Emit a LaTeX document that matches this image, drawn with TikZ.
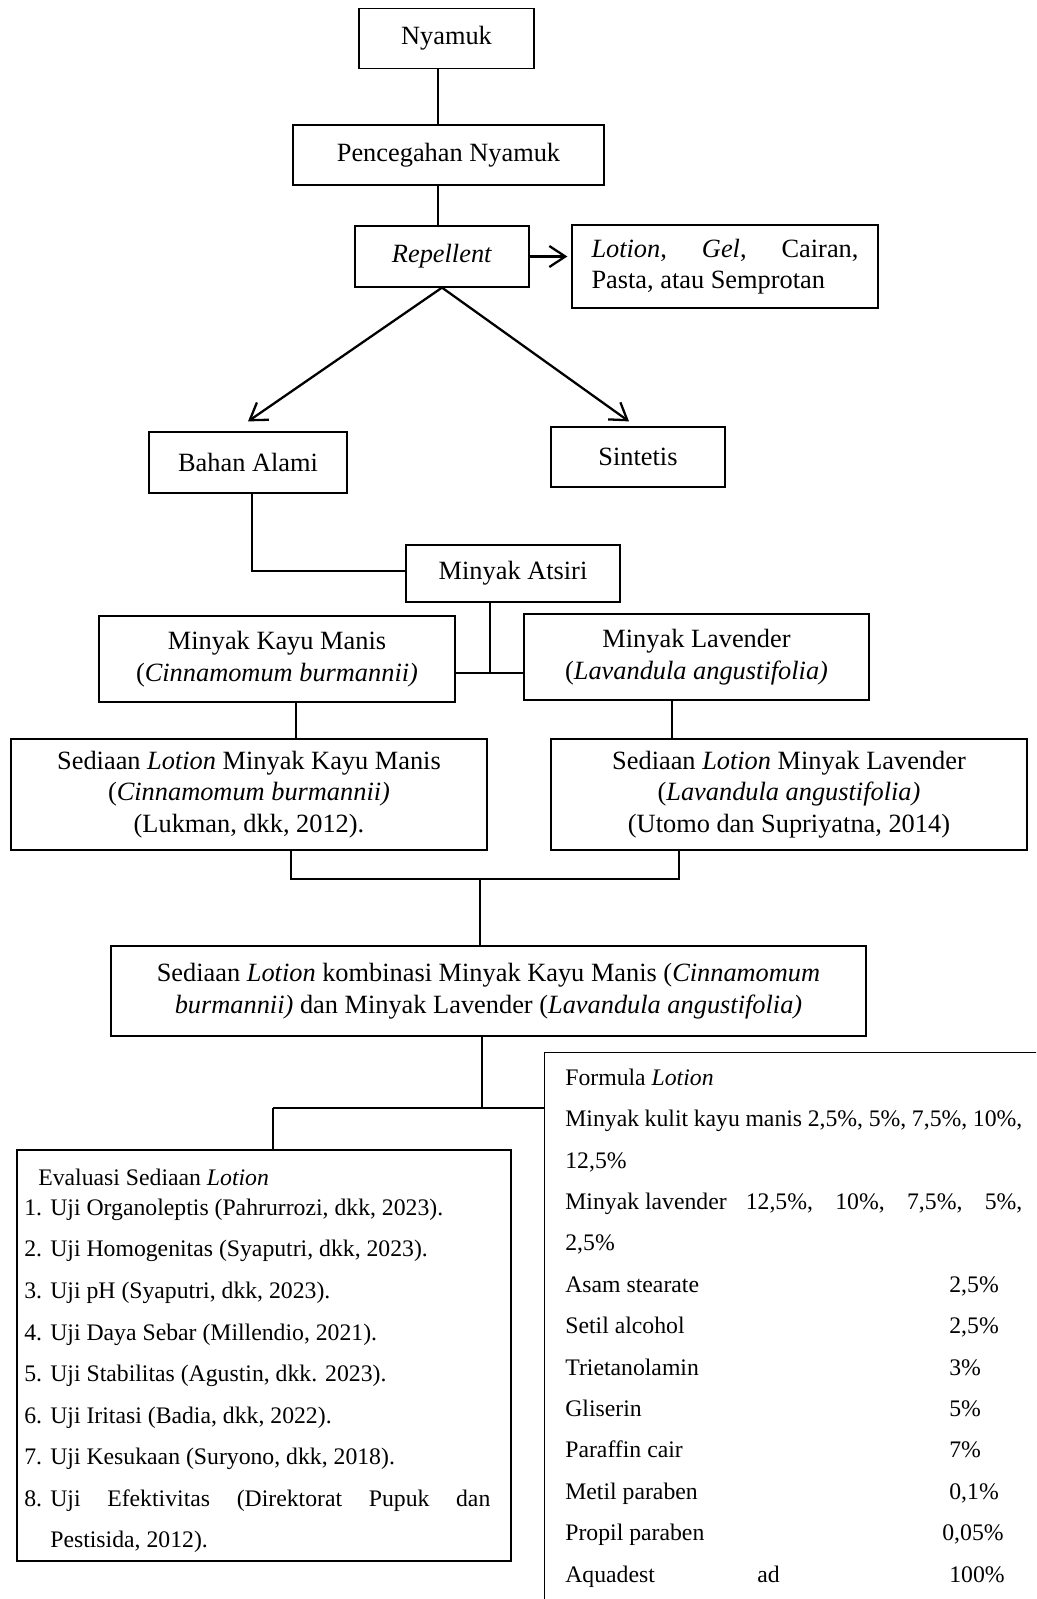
\documentclass[tikz,border=0pt]{standalone}
\usepackage{fontspec}
\setmainfont{Liberation Serif}
\usetikzlibrary{arrows.meta}

\begin{document}
\begin{tikzpicture}[box/.style={draw, line width=0.7pt, align=center, inner sep=2pt, font=\fontsize{15}{18}\selectfont},
  conn/.style={line width=1.3pt},
  tip/.style={conn, -{Straight Barb[length=3.2mm,width=4.2mm]}},
  item/.style={anchor=base west, inner sep=0pt, font=\fontsize{13.5}{16}\selectfont}]
\useasboundingbox (0,0) rectangle (20.72,-31.98);
\clip (0,0) rectangle (20.72,-31.98);
% alur atas
\node[box, minimum width=3.5cm, minimum height=1.2cm] (nyamuk) at (8.93,-0.77) {Nyamuk};
\node[box, minimum width=6.22cm, minimum height=1.2cm] (cegah) at (8.97,-3.10) {Pencegahan Nyamuk};
\node[box, minimum width=3.48cm, minimum height=1.22cm] (rep) at (8.84,-5.13) {\textit{Repellent}};
\node[box, minimum width=6.12cm, minimum height=1.66cm, align=left] (bentuk) at (14.5,-5.33) {\raisebox{-0.08cm}{\makebox[5.34cm][s]{\textit{Lotion}, \textit{Gel}, Cairan,}}\\\raisebox{-0.08cm}{Pasta, atau Semprotan}};
\node[box, minimum width=3.96cm, minimum height=1.22cm] (alami) at (4.96,-9.25) {Bahan Alami};
\node[box, minimum width=3.48cm, minimum height=1.2cm] (sintetis) at (12.76,-9.14) {Sintetis};
\node[box, minimum width=4.28cm, minimum height=1.14cm] (atsiri) at (10.26,-11.47) {Minyak Atsiri};
\node[box, minimum width=7.12cm, minimum height=1.72cm] (kayu) at (5.54,-13.18) {Minyak Kayu Manis\\(\textit{Cinnamomum burmannii)}};
\node[box, minimum width=6.9cm, minimum height=1.72cm] (lav) at (13.93,-13.14) {Minyak Lavender\\(\textit{Lavandula angustifolia)}};
\node[box, minimum width=9.52cm, minimum height=2.22cm] (lkayu) at (4.98,-15.89) {Sediaan \textit{Lotion} Minyak Kayu Manis\\(\textit{Cinnamomum burmannii)}\\(Lukman, dkk, 2012).};
\node[box, minimum width=9.52cm, minimum height=2.22cm] (llav) at (15.78,-15.89) {Sediaan \textit{Lotion} Minyak Lavender\\(\textit{Lavandula angustifolia)}\\ (Utomo dan Supriyatna, 2014)};
\node[box, minimum width=15.1cm, minimum height=1.8cm] (kombinasi) at (9.77,-19.82) {Sediaan \textit{Lotion} kombinasi Minyak Kayu Manis (\textit{Cinnamomum}\\\textit{burmannii)} dan Minyak Lavender (\textit{Lavandula angustifolia)}};
\node[box, minimum width=9.88cm, minimum height=8.22cm] (evaluasi) at (5.28,-27.11) {};
\node[box, anchor=north west, minimum width=10cm, minimum height=12cm] (formula) at (10.88,-21.04) {};
% evaluasi
\node[item] (e0) at (0.76,-23.70) {Evaluasi Sediaan \textit{Lotion}};
\node[item] (e1) at (0.48,-24.30) {\makebox[0.52cm][l]{1.}Uji Organoleptis (Pahrurrozi, dkk, 2023).};
\node[item] (e2) at (0.48,-25.13) {\makebox[0.52cm][l]{2.}Uji Homogenitas (Syaputri, dkk, 2023).};
\node[item] (e3) at (0.48,-25.96) {\makebox[0.52cm][l]{3.}Uji pH (Syaputri, dkk, 2023).};
\node[item] (e4) at (0.48,-26.80) {\makebox[0.52cm][l]{4.}Uji Daya Sebar (Millendio, 2021).};
\node[item] (e5) at (0.48,-27.63) {\makebox[0.52cm][l]{5.}Uji Stabilitas (Agustin, dkk. 2023).};
\node[item] (e6) at (0.48,-28.46) {\makebox[0.52cm][l]{6.}Uji Iritasi (Badia, dkk, 2022).};
\node[item] (e7) at (0.48,-29.29) {\makebox[0.52cm][l]{7.}Uji Kesukaan (Suryono, dkk, 2018).};
\node[item] (e8) at (0.48,-30.12) {\makebox[0.52cm][l]{8.}\makebox[8.8cm][s]{Uji Efektivitas (Direktorat Pupuk dan}};
\node[item] (e9) at (1.00,-30.94) {Pestisida, 2012).};
% formula
\node[item] (f0) at (11.30,-21.70) {Formula \textit{Lotion}};
\node[item] (f1) at (11.30,-22.53) {\makebox[9.14cm][s]{Minyak kulit kayu manis 2,5\%, 5\%, 7,5\%, 10\%,}};
\node[item] (f2) at (11.30,-23.36) {12,5\%};
\node[item] (f3) at (11.30,-24.18) {\makebox[9.14cm][s]{Minyak\kern.25em lavender 12,5\%, 10\%, 7,5\%, 5\%,}};
\node[item] (f4) at (11.30,-25.01) {2,5\%};
\node[item] (f5) at (11.30,-25.84) {Asam stearate};
\node[item] (f6) at (11.30,-26.67) {Setil alcohol};
\node[item] (f7) at (11.30,-27.50) {Trietanolamin};
\node[item] (f8) at (11.30,-28.32) {Gliserin};
\node[item] (f9) at (11.30,-29.15) {Paraffin cair};
\node[item] (f10) at (11.30,-29.98) {Metil paraben};
\node[item] (f11) at (11.30,-30.81) {Propil paraben};
\node[item] (f12) at (11.30,-31.64) {Aquadest};
\node[item] (ad) at (15.14,-31.64) {ad};
\node[item] (v5) at (18.98,-25.84) {2,5\%};
\node[item] (v6) at (18.98,-26.67) {2,5\%};
\node[item] (v7) at (18.98,-27.50) {3\%};
\node[item] (v8) at (18.98,-28.32) {5\%};
\node[item] (v9) at (18.98,-29.15) {7\%};
\node[item] (v10) at (18.98,-29.98) {0,1\%};
\node[item] (v11) at (18.84,-30.81) {0,05\%};
\node[item] (v12) at (18.98,-31.64) {100\%};
% garis penghubung
\coordinate (a1) at (8.76,0);
\coordinate (a2) at (9.8,-13.46);
\coordinate (a3) at (5.92,0);
\coordinate (a4) at (13.44,0);
\coordinate (a5) at (5.82,-17.58);
\coordinate (a6) at (13.58,-17.58);
\coordinate (a7) at (9.6,-17.58);
\coordinate (a8) at (9.64,-22.16);
\coordinate (a9) at (5.46,-22.16);
\draw[conn] (nyamuk.south -| a1) -- (cegah.north -| a1);
\draw[conn] (cegah.south -| a1) -- (rep.north -| a1);
\draw[tip, shorten >=0.08cm] (rep.east) -- (rep.east -| bentuk.west);
\draw[tip] (rep.south) -- ([yshift=0.2cm]alami.north);
\draw[tip] (rep.south) -- ([xshift=-0.18cm,yshift=0.1cm]sintetis.north);
\draw[conn] ([xshift=0.08cm]alami.south) |- ([yshift=0.05cm]atsiri.west);
\draw[conn] (atsiri.south -| a2) -- (a2);
\draw[conn] (kayu.east |- a2) -- (lav.west |- a2);
\draw[conn] (kayu.south -| a3) -- (lkayu.north -| a3);
\draw[conn] (lav.south -| a4) -- (llav.north -| a4);
\draw[conn] (lkayu.south -| a5) -- (a5) -- (a6) -- (llav.south -| a6);
\draw[conn] (a7) -- (kombinasi.north -| a7);
\draw[conn] (kombinasi.south -| a8) -- (a8);
\draw[conn] (a9) -- (a9 -| formula.west);
\draw[conn] (a9) -- (evaluasi.north -| a9);
\end{tikzpicture}
\end{document}
